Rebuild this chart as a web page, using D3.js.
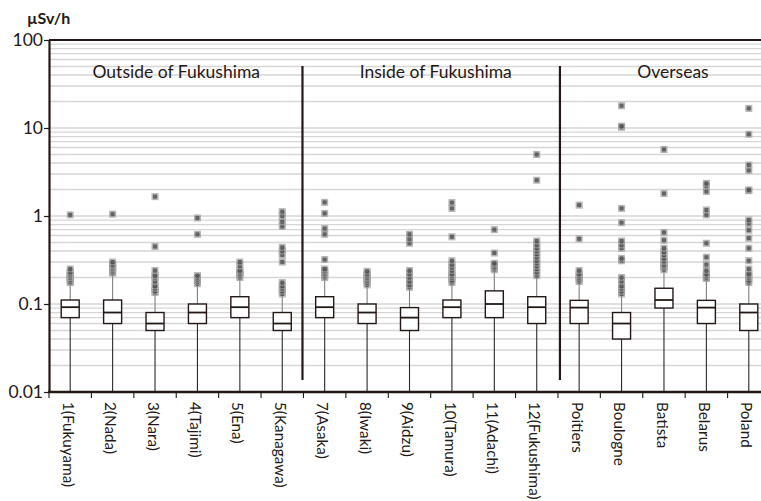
<!DOCTYPE html>
<html>
<head>
<meta charset="utf-8">
<script src="https://cdn.jsdelivr.net/npm/d3@7"></script>
<style>
  html, body { margin: 0; padding: 0; background: #fff; }
  svg { display: block; font-family: Lato, "Open Sans", sans-serif; }
</style>
</head>
<body>
<svg id="chart" width="761" height="501"></svg>
<script>
// Dose rate per measurement site (µSv/h)
const categories = [
  "1(Fukuyama)", "2(Nada)", "3(Nara)", "4(Tajimi)", "5(Ena)", "5(Kanagawa)",
  "7(Asaka)", "8(Iwaki)", "9(Aidzu)", "10(Tamura)", "11(Adachi)", "12(Fukushima)",
  "Poitiers", "Boulogne", "Batista", "Belarus", "Poland"
];
const q1 =       [0.070, 0.060, 0.050, 0.060, 0.070, 0.050, 0.070, 0.060, 0.050, 0.070, 0.070, 0.060, 0.060, 0.040, 0.090, 0.060, 0.050];
const median =   [0.092, 0.080, 0.060, 0.080, 0.092, 0.060, 0.092, 0.080, 0.070, 0.092, 0.100, 0.092, 0.091, 0.060, 0.111, 0.091, 0.080];
const q3 =       [0.111, 0.111, 0.080, 0.100, 0.121, 0.080, 0.121, 0.100, 0.091, 0.111, 0.141, 0.121, 0.110, 0.080, 0.151, 0.110, 0.100];
const whiskerLow =  [0.01, 0.01, 0.01, 0.01, 0.01, 0.01, 0.01, 0.01, 0.01, 0.01, 0.01, 0.01, 0.01, 0.01, 0.01, 0.01, 0.01];
const whiskerHigh = [0.165, 0.22, 0.13, 0.165, 0.19, 0.125, 0.19, 0.16, 0.15, 0.165, 0.23, 0.2, 0.175, 0.125, 0.24, 0.19, 0.17];
const outliers = [
  [0.175, 0.18, 0.19, 0.2, 0.2, 0.21, 0.22, 0.23, 0.25, 1.03],
  [0.225, 0.23, 0.24, 0.25, 0.26, 0.27, 0.28, 0.3, 1.05],
  [0.135, 0.14, 0.15, 0.16, 0.18, 0.2, 0.21, 0.24, 0.45, 1.66],
  [0.17, 0.18, 0.19, 0.2, 0.21, 0.62, 0.95],
  [0.2, 0.21, 0.22, 0.23, 0.24, 0.27, 0.3],
  [0.13, 0.14, 0.15, 0.16, 0.175, 0.3, 0.36, 0.4, 0.44, 0.76, 0.86, 1.0, 1.12],
  [0.2, 0.21, 0.22, 0.23, 0.24, 0.25, 0.32, 0.62, 0.72, 1.07, 1.43],
  [0.165, 0.175, 0.185, 0.195, 0.2, 0.21, 0.22, 0.235],
  [0.155, 0.165, 0.18, 0.2, 0.22, 0.24, 0.49, 0.55, 0.62],
  [0.175, 0.185, 0.2, 0.21, 0.22, 0.24, 0.26, 0.28, 0.31, 0.58, 1.22, 1.42],
  [0.245, 0.255, 0.265, 0.28, 0.29, 0.38, 0.7],
  [0.21, 0.23, 0.25, 0.27, 0.29, 0.31, 0.34, 0.37, 0.4, 0.43, 0.47, 0.52, 2.55, 5.0],
  [0.18, 0.19, 0.2, 0.21, 0.22, 0.24, 0.55, 1.33],
  [0.13, 0.14, 0.15, 0.16, 0.18, 0.2, 0.31, 0.33, 0.43, 0.47, 0.52, 0.84, 1.22, 10.2, 10.5, 17.9],
  [0.245, 0.26, 0.27, 0.28, 0.3, 0.31, 0.33, 0.36, 0.39, 0.43, 0.53, 0.65, 1.8, 5.7],
  [0.195, 0.2, 0.21, 0.22, 0.24, 0.28, 0.34, 0.49, 1.03, 1.17, 1.9, 2.2, 2.35],
  [0.175, 0.185, 0.2, 0.21, 0.22, 0.25, 0.31, 0.43, 0.56, 0.69, 0.82, 0.9, 1.94, 1.98, 3.3, 3.8, 8.5, 16.7]
];
// Region groups: label, first and last site index
const groupNames = ["Outside of Fukushima", "Inside of Fukushima", "Overseas"];
const groupStart = [0, 6, 12];
const groupEnd = [5, 11, 16];
const yTickValues = [0.01, 0.1, 1, 10, 100];
const yTickLabels = ["0.01", "0.1", "1", "10", "100"];
const unitLabel = "µSv/h";

(function draw() {
  const svg = d3.select("#chart");
  const leftX = 49, topY = 40, bottomY = 392, plotRight = 770;

  const x = d3.scaleBand().domain(categories).range([leftX, plotRight]).paddingInner(0).paddingOuter(0);
  const y = d3.scaleLog().domain([0.01, 100]).range([bottomY, topY]);

  // Horizontal grid at every minor and major log step
  const gridVals = [];
  for (let e = -2; e < 2; e++) {
    for (let m = 1; m < 10; m++) gridVals.push(m * Math.pow(10, e));
  }
  gridVals.push(100);
  svg.append("g").selectAll("line").data(gridVals).join("line")
    .attr("x1", leftX).attr("x2", 761)
    .attr("y1", d => y(d)).attr("y2", d => y(d))
    .attr("stroke", "#d6d6d6").attr("stroke-width", 1.3);

  // Top frame line
  svg.append("line").attr("x1", leftX).attr("x2", 761).attr("y1", topY).attr("y2", topY)
    .attr("stroke", "#231815").attr("stroke-width", 2);

  // Group separators and labels
  const sepIdx = groupStart.slice(1);
  const sepShift = [-1, 2];
  svg.append("g").selectAll("line").data(sepIdx).join("line")
    .attr("x1", (d, i) => x(categories[d]) + sepShift[i]).attr("x2", (d, i) => x(categories[d]) + sepShift[i])
    .attr("y1", 66).attr("y2", 380)
    .attr("stroke", "#231815").attr("stroke-width", 2.2);

  const labelShift = [0, 5, 9];
  svg.append("g").selectAll("text").data(groupNames).join("text")
    .attr("x", (d, i) => (x(categories[groupStart[i]]) + x(categories[groupEnd[i]]) + x.bandwidth()) / 2 + labelShift[i])
    .attr("y", 78)
    .attr("text-anchor", "middle")
    .attr("font-size", 17.5)
    .attr("fill", "#231815")
    .text(d => d);

  // Box plots
  const boxW = 18;
  const sites = categories.map((c, i) => ({
    c, q1: q1[i], med: median[i], q3: q3[i], lo: whiskerLow[i], hi: whiskerHigh[i], out: outliers[i]
  }));
  const cx = d => x(d.c) + x.bandwidth() / 2;

  const g = svg.append("g");
  // lower whisker
  g.selectAll("line.lw").data(sites).join("line").attr("class", "lw")
    .attr("x1", cx).attr("x2", cx).attr("y1", d => y(d.q1)).attr("y2", d => y(d.lo))
    .attr("stroke", "#2a2a2a").attr("stroke-width", 1.1);
  // upper whisker
  g.selectAll("line.uw").data(sites).join("line").attr("class", "uw")
    .attr("x1", cx).attr("x2", cx).attr("y1", d => y(d.q3)).attr("y2", d => y(d.hi))
    .attr("stroke", "#808080").attr("stroke-width", 1.1);

  // outlier markers: grey square with a cross, darker where they pile up
  const mk = g.selectAll("g.site").data(sites).join("g").attr("class", "site");
  mk.selectAll("g.pt").data(d => d.out.map(v => ({ v, x: cx(d) }))).join("g").attr("class", "pt")
    .attr("transform", p => `translate(${p.x},${y(p.v)})`)
    .each(function () {
      const s = d3.select(this);
      s.append("rect").attr("x", -3.5).attr("y", -3.5).attr("width", 7).attr("height", 7)
        .attr("fill", "#949494").attr("opacity", 0.72);
      s.append("path").attr("d", "M-3,-3L3,3M3,-3L-3,3")
        .attr("stroke", "#dedede").attr("stroke-width", 1).attr("opacity", 0.6);
      s.append("rect").attr("x", -2).attr("y", -2).attr("width", 4).attr("height", 4)
        .attr("fill", "#1a1a1a").attr("opacity", 0.55);
    });

  // boxes
  g.selectAll("rect.box").data(sites).join("rect").attr("class", "box")
    .attr("x", d => cx(d) - boxW / 2).attr("width", boxW)
    .attr("y", d => y(d.q3)).attr("height", d => y(d.q1) - y(d.q3))
    .attr("fill", "#fff").attr("stroke", "#231815").attr("stroke-width", 1.4);
  g.selectAll("line.med").data(sites).join("line").attr("class", "med")
    .attr("x1", d => cx(d) - boxW / 2).attr("x2", d => cx(d) + boxW / 2)
    .attr("y1", d => y(d.med)).attr("y2", d => y(d.med))
    .attr("stroke", "#231815").attr("stroke-width", 1.8);

  // Y axis
  const yAxis = d3.axisLeft(y).tickValues(yTickValues)
    .tickFormat((d, i) => yTickLabels[i]).tickSize(5).tickSizeOuter(0);
  const ya = svg.append("g").attr("transform", `translate(${leftX},0)`).call(yAxis);
  ya.select(".domain").attr("stroke", "#231815").attr("stroke-width", 2.2);
  ya.selectAll(".tick line").attr("stroke", "#231815").attr("stroke-width", 1.2);
  ya.selectAll(".tick text").attr("font-size", 17.5).attr("fill", "#231815")
    .attr("font-family", "Lato, sans-serif").attr("x", -6);

  // X axis: ticks at band boundaries
  const xa = svg.append("g");
  xa.append("line").attr("x1", leftX - 1).attr("x2", 761).attr("y1", bottomY).attr("y2", bottomY)
    .attr("stroke", "#231815").attr("stroke-width", 2.4);
  xa.selectAll("line.bt").data(categories).join("line").attr("class", "bt")
    .attr("x1", d => x(d)).attr("x2", d => x(d)).attr("y1", bottomY).attr("y2", bottomY + 6)
    .attr("stroke", "#231815").attr("stroke-width", 1.1);
  xa.selectAll("text").data(categories).join("text")
    .attr("transform", d => `translate(${x(d) + x.bandwidth() / 2 - 2},402) rotate(90)`)
    .attr("dy", "0.35em")
    .attr("text-anchor", "start")
    .attr("font-size", 15.3)
    .attr("fill", "#231815")
    .text(d => d);

  // Unit label
  svg.append("text").attr("x", 27).attr("y", 24)
    .attr("font-size", 16).attr("font-weight", "bold").attr("fill", "#231815")
    .text(unitLabel);
})();
</script>
</body>
</html>
